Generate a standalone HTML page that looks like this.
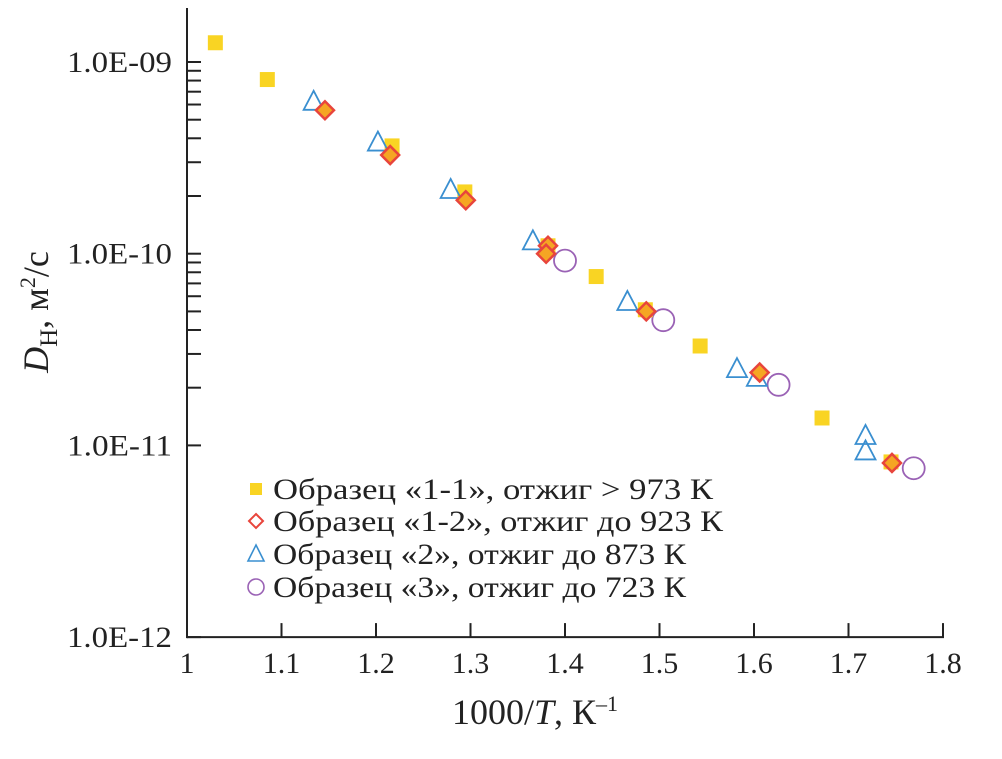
<!DOCTYPE html>
<html><head><meta charset="utf-8"><style>
body{margin:0;background:#fff}
svg text{font-family:"Liberation Serif",serif;fill:#222}
</style></head><body>
<svg width="1002" height="754" viewBox="0 0 1002 754">
<g id="axes"></g><g id="marks"></g><g id="legend"></g>
</svg>
<script>
const xTicks=[1,1.1,1.2,1.3,1.4,1.5,1.6,1.7,1.8];
const xTickLabels=["1","1.1","1.2","1.3","1.4","1.5","1.6","1.7","1.8"];
const yDecades=[1e-9,1e-10,1e-11,1e-12];
const yTickLabels=["1.0E-09","1.0E-10","1.0E-11","1.0E-12"];
const s1x=[1.03,1.085,1.217,1.294,1.382,1.433,1.485,1.543,1.672,1.745];
const s1y=[1.26e-9,8.1e-10,3.65e-10,2.1e-10,1.1e-10,7.6e-11,5.1e-11,3.3e-11,1.39e-11,8.2e-12];
const s2x=[1.146,1.215,1.295,1.382,1.38,1.486,1.606,1.746];
const s2y=[5.6e-10,3.27e-10,1.9e-10,1.1e-10,1.0e-10,5.0e-11,2.4e-11,8.1e-12];
const s3x=[1.134,1.202,1.279,1.366,1.466,1.582,1.603,1.718,1.718];
const s3y=[6.2e-10,3.8e-10,2.15e-10,1.16e-10,5.6e-11,2.5e-11,2.25e-11,1.12e-11,9.3e-12];
const s4x=[1.40,1.504,1.626,1.769];
const s4y=[9.2e-11,4.5e-11,2.07e-11,7.6e-12];
const NS="http://www.w3.org/2000/svg";
const X0=187,XS=945,Y9=62,DEC=191.7;
function sx(v){return X0+(v-1)*XS;}
function sy(v){return Y9-(Math.log10(v)+9)*DEC;}
function mk(tag,attrs,parent,text){const e=document.createElementNS(NS,tag);for(const k in attrs)e.setAttribute(k,attrs[k]);if(text!==undefined)e.textContent=text;parent.appendChild(e);return e;}
const ax=document.getElementById('axes'),mg=document.getElementById('marks'),lg=document.getElementById('legend');
let e=mk('line',{x1:X0,y1:8,x2:X0,y2:sy(1e-12)+1,stroke:'#222','stroke-width':2},ax);


e=mk('line',{x1:X0,y1:sy(1e-12),x2:sx(1.8)+1,y2:sy(1e-12),stroke:'#222','stroke-width':2},ax);


xTicks.forEach((t,i)=>{
 const x=sx(t);
 if(i>0){e=mk('line',{x1:x,y1:sy(1e-12),x2:x,y2:sy(1e-12)-14,stroke:'#222','stroke-width':2},ax);
 
 }
 e=mk('text',{x:x,y:673,'text-anchor':'middle','font-size':30},ax,xTickLabels[i]);
 
 
});
yDecades.forEach((d,i)=>{
 e=mk('text',{x:172,y:sy(d)+10,'text-anchor':'end','font-size':30,textLength:105,lengthAdjust:'spacingAndGlyphs'},ax,yTickLabels[i]);
 
 
 for(let m=1;m<=9;m++){
  const v=d*m; if(m>1&&i===0)continue; const y=sy(v); if(y<8)continue;
  if(i===3&&m>1)continue;
  e=mk('line',{x1:X0,y1:y,x2:X0+14,y2:y,stroke:'#222','stroke-width':2},ax);
  
  
 }
});
for(let m=2;m<=9;m++){const y=sy(1e-9*m);if(y<8)break;
 e=mk('line',{x1:X0,y1:y,x2:X0+14,y2:y,stroke:'#222','stroke-width':2},ax);
 
 }
e=mk('text',{x:535,y:724,'text-anchor':'middle','font-size':36},ax);
e.innerHTML='1000/<tspan font-style="italic">T</tspan>, К<tspan dy="-13" font-size="22">–1</tspan>';


e=mk('text',{x:0,y:0,'text-anchor':'middle','font-size':36,transform:'translate(48,312) rotate(-90)'},ax);
e.innerHTML='<tspan font-style="italic">D</tspan><tspan dy="9" font-size="25">H</tspan><tspan dy="-9">, м</tspan><tspan dy="-13" font-size="22">2</tspan><tspan dy="13">/с</tspan>';


function square(x,y,p){return mk('rect',{x:x-7.5,y:y-7.5,width:15,height:15,fill:'#f9d423'},p);}
function diamond(x,y,p){return mk('path',{d:`M${x} ${y-9}L${x+9} ${y}L${x} ${y+9}L${x-9} ${y}Z`,fill:'#f5a623',stroke:'#e8453c','stroke-width':2.5},p);}
function tri(x,y,p){return mk('path',{d:`M${x} ${y-11}L${x+10} ${y+8}L${x-10} ${y+8}Z`,fill:'none',stroke:'#3a8fd0','stroke-width':1.8},p);}
function circ(x,y,p){return mk('circle',{cx:x,cy:y,r:11,fill:'#fff',stroke:'#9a62b5','stroke-width':1.8},p);}
s4x.forEach((v,i)=>{e=circ(sx(v),sy(s4y[i]),mg);
 
 });
s1x.forEach((v,i)=>{e=square(sx(v),sy(s1y[i]),mg);
 
 });
s3x.forEach((v,i)=>{e=tri(sx(v),sy(s3y[i]),mg);
 
 });
s2x.forEach((v,i)=>{e=diamond(sx(v),sy(s2y[i]),mg);
 
 });
const legTexts=["Образец «1-1»,  отжиг > 973 К","Образец «1-2»,  отжиг до 923 К","Образец «2», отжиг до 873 К","Образец «3», отжиг до 723 К"];
const legY=[489,521,554,587];
const legW=[440,450,413,413];
const fns=[square,(x,y,p)=>mk('path',{d:`M${x} ${y-7}L${x+7} ${y}L${x} ${y+7}L${x-7} ${y}Z`,fill:'none',stroke:'#e8453c','stroke-width':2},p),(x,y,p)=>mk('path',{d:`M${x} ${y-9}L${x+8} ${y+7}L${x-8} ${y+7}Z`,fill:'none',stroke:'#3a8fd0','stroke-width':1.6},p),(x,y,p)=>mk('circle',{cx:x,cy:y,r:8,fill:'none',stroke:'#9a62b5','stroke-width':1.6},p)];
legTexts.forEach((t,i)=>{
 const g=mk('g',{},lg);
 
 
 const m=fns[i](256,legY[i],g);
 if(i===0){m.setAttribute('x',250);m.setAttribute('y',legY[i]-6);m.setAttribute('width',12);m.setAttribute('height',12);}
 mk('text',{x:273,y:legY[i]+10,'font-size':30,fill:'#111',textLength:legW[i],lengthAdjust:'spacingAndGlyphs','xml:space':'preserve'},g,t);
});
</script>
</body></html>
